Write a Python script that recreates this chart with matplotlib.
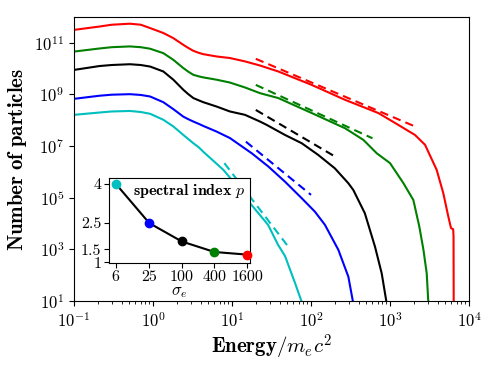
import numpy as np
import matplotlib
matplotlib.use("Agg")
import matplotlib.pyplot as plt
from matplotlib.ticker import FixedLocator, NullLocator, LogLocator, FixedFormatter

plt.rcParams['font.family'] = 'serif'
plt.rcParams['font.serif'] = ['cmr10']
plt.rcParams['mathtext.fontset'] = 'cm'
plt.rcParams['axes.formatter.use_mathtext'] = True

# ---- data (energy, log10 N) ----
red_E = [0.1, 0.21, 0.3, 0.51, 0.7, 0.92, 1.35, 1.81, 2.42, 2.8, 3.24, 3.8, 4.33, 6.40, 9.42,
         14.6, 22.6, 38.5, 102, 270, 711, 1274, 2072, 2775, 3895, 4730, 5470, 5920, 6300,
         6370, 6400]
red_logN = [11.50, 11.63, 11.70, 11.74, 11.70, 11.57, 11.38, 11.18, 10.92, 10.80, 10.69, 10.61,
            10.56, 10.47, 10.41, 10.28, 10.12, 9.89, 9.37, 8.79, 8.28, 7.82, 7.43, 7.05, 6.08,
            5.17, 4.27, 3.82, 3.78, 3.5, 0.9]

green_E = [0.1, 0.21, 0.3, 0.51, 0.7, 0.92, 1.35, 1.81, 2.42, 2.8, 3.24, 3.8, 4.33, 6.40, 9.42,
           14.6, 22.6, 38.5, 102, 270, 460, 680, 1000, 1480, 1975, 2350, 2650, 2915, 3060]
green_logN = [10.66, 10.78, 10.83, 10.86, 10.83, 10.77, 10.60, 10.34, 10.02, 9.88, 9.76, 9.70,
              9.66, 9.57, 9.46, 9.27, 9.05, 8.86, 8.28, 7.69, 7.24, 6.72, 6.34, 5.56, 4.91,
              3.88, 2.98, 2.07, 0.9]

black_E = [0.1, 0.21, 0.3, 0.51, 0.7, 0.92, 1.35, 1.81, 2.42, 2.8, 3.24, 3.8, 4.33, 6.40, 9.42,
           14.6, 22.6, 27.5, 46.9, 76.3, 123, 200, 297, 343, 480, 646, 785, 908]
black_logN = [9.95, 10.10, 10.14, 10.17, 10.14, 10.08, 9.89, 9.57, 9.18, 9.01, 8.86, 8.77,
              8.70, 8.53, 8.34, 8.21, 7.95, 7.82, 7.43, 7.11, 6.66, 6.14, 5.56, 5.30, 4.40,
              3.10, 2.07, 0.9]

blue_E = [0.1, 0.21, 0.3, 0.51, 0.7, 0.92, 1.35, 1.81, 2.42, 2.8, 3.24, 3.8, 4.33, 6.40, 9.42,
          17.8, 28.8, 46.9, 76.3, 112, 150, 222, 297, 343]
blue_logN = [8.83, 8.95, 8.99, 9.01, 8.98, 8.92, 8.70, 8.43, 8.14, 8.04, 7.95, 7.86, 7.78,
             7.56, 7.31, 6.72, 6.21, 5.62, 4.98, 4.46, 3.95, 2.98, 1.94, 0.9]

cyan_E = [0.1, 0.21, 0.3, 0.51, 0.7, 0.92, 1.35, 1.81, 2.42, 2.8, 3.24, 3.8, 4.33, 5.8, 7.77,
          11.2, 16.9, 28.6, 38.2, 46.9, 62.7, 77.6]
cyan_logN = [8.21, 8.30, 8.34, 8.36, 8.32, 8.25, 8.02, 7.76, 7.43, 7.27, 7.11, 6.95, 6.78,
             6.43, 6.08, 5.50, 4.79, 3.95, 3.18, 2.74, 1.70, 0.9]

# dashed power-law guides: start energy, end energy, log10 N at start
dash_E0 = [20, 20, 20, 15, 8]
dash_E1 = [2250, 600, 200, 100, 50]
dash_logN0 = [10.38, 9.37, 8.40, 7.17, 6.34]

# inset: spectral index vs magnetization
sigma_e = [6, 25, 100, 400, 1600]
p_index = [4.0, 2.5, 1.8, 1.4, 1.3]

colors = ['r', 'g', 'k', 'b', 'c']
curves_E = [red_E, green_E, black_E, blue_E, cyan_E]
curves_logN = [red_logN, green_logN, black_logN, blue_logN, cyan_logN]

fig = plt.figure(figsize=(4.98, 3.66), dpi=100)
ax = fig.add_axes([0.1486, 0.1776, 0.7932, 0.776])

for E, lN, c in zip(curves_E, curves_logN, colors):
    ax.plot(E, 10 ** np.array(lN), color=c, lw=1.5, solid_joinstyle='round')

for E0, E1, lN0, p, c in zip(dash_E0, dash_E1, dash_logN0, p_index[::-1], colors):
    Ed = np.array([E0, E1], dtype=float)
    ax.plot(Ed, 10 ** lN0 * (Ed / E0) ** (-p), color=c, lw=1.5, ls=(0, (4, 2.5)))

ax.set_xscale('log')
ax.set_yscale('log')
ax.set_xlim(1e-1, 1e4)
ax.set_ylim(1e1, 1e12)
ax.yaxis.set_major_locator(FixedLocator([1e1, 1e3, 1e5, 1e7, 1e9, 1e11]))
ax.yaxis.set_minor_locator(NullLocator())
ax.xaxis.set_major_locator(LogLocator(base=10, numticks=10))
ax.xaxis.set_minor_locator(LogLocator(base=10, subs=np.arange(2, 10), numticks=20))
ax.tick_params(labelsize=12)
ax.set_xlabel(r'$\mathbf{Energy}/m_ec^2$', fontsize=15, labelpad=2)
ax.set_ylabel(r'$\mathbf{Number\ of\ particles}$', fontsize=15, labelpad=4)

# inset
ins = fig.add_axes([0.2189, 0.2814, 0.2831, 0.2322])
ins.set_facecolor('white')
ins.plot(sigma_e, p_index, color='k', lw=1.5, zorder=2)
for s, p, c in zip(sigma_e, p_index, colors[::-1]):
    ins.plot([s], [p], 'o', color=c, ms=6, zorder=3, clip_on=False)
ins.set_xscale('log')
ins.set_xlim(4.5, 1815)
ins.set_ylim(0.98, 4.22)
ins.xaxis.set_major_locator(FixedLocator(sigma_e))
ins.xaxis.set_major_formatter(FixedFormatter([str(s) for s in sigma_e]))
ins.xaxis.set_minor_locator(NullLocator())
ins.yaxis.set_major_locator(FixedLocator([1, 1.5, 2.5, 4]))
ins.yaxis.set_major_formatter(FixedFormatter(['1', '1.5', '2.5', '4']))
ins.tick_params(labelsize=11.5, pad=2)
ins.set_xlabel(r'$\sigma_e$', fontsize=12, labelpad=0)
ins.text(0.965, 0.85, r'$\mathbf{spectral\ index}\ p$', transform=ins.transAxes,
         ha='right', va='center', fontsize=11.5)

fig.savefig('out.png', dpi=100)
